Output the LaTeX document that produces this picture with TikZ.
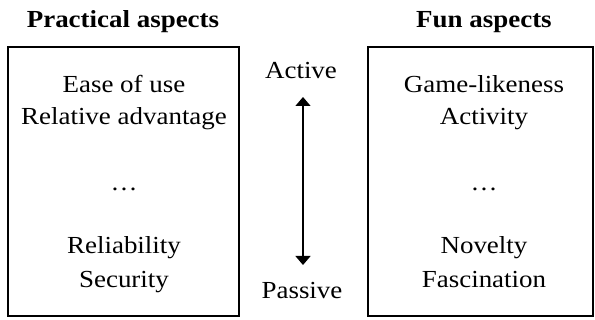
\documentclass[tikz,border=0pt]{standalone}
\usepackage{fontspec}
\setmainfont{Liberation Serif}[FakeStretch=1.1]
\usetikzlibrary{arrows.meta}
\tikzset{
  itemtext/.style={anchor=base, inner sep=0pt, font=\fontsize{24.5}{28}\selectfont},
  headtext/.style={itemtext, font=\fontsize{24.5}{28}\selectfont\bfseries},
  aspectbox/.style={draw, line width=1.4pt},
  scale arrow/.style={line width=1.4pt, {Triangle[width=15pt,length=9pt]}-{Triangle[width=15pt,length=9pt]}}
}
\begin{document}
\begin{tikzpicture}[x=1pt,y=-1pt]
  \useasboundingbox (0,0) rectangle (595,320);
  % the two groups of aspects
  \draw[aspectbox] (8,47) rectangle (239,316);
  \draw[aspectbox] (368,47) rectangle (593,316);
  \node[headtext] (practical) at (123,28) {Practical aspects};
  \node[headtext] (fun) at (484,28) {Fun aspects};
  % practical side
  \node[itemtext] (ease) at (124,93) {Ease of use};
  \node[itemtext] (advantage) at (124,125) {Relative advantage};
  \node[itemtext] (pdots) at (124,191) {\dots};
  \node[itemtext] (reliability) at (124,254) {Reliability};
  \node[itemtext] (security) at (124,288) {Security};
  % fun side
  \node[itemtext] (game) at (484,93) {Game-likeness};
  \node[itemtext] (activity) at (484,125) {Activity};
  \node[itemtext] (fdots) at (484,191) {\dots};
  \node[itemtext] (novelty) at (484,254) {Novelty};
  \node[itemtext] (fascination) at (484,288) {Fascination};
  % active / passive scale
  \node[itemtext] (active) at (301,79) {Active};
  \node[itemtext] (passive) at (302,299) {Passive};
  \coordinate (scaletop) at (303,97);
  \coordinate (scalebot) at (303,265);
  \draw[scale arrow] (scaletop) -- (scalebot);
\end{tikzpicture}
\end{document}
